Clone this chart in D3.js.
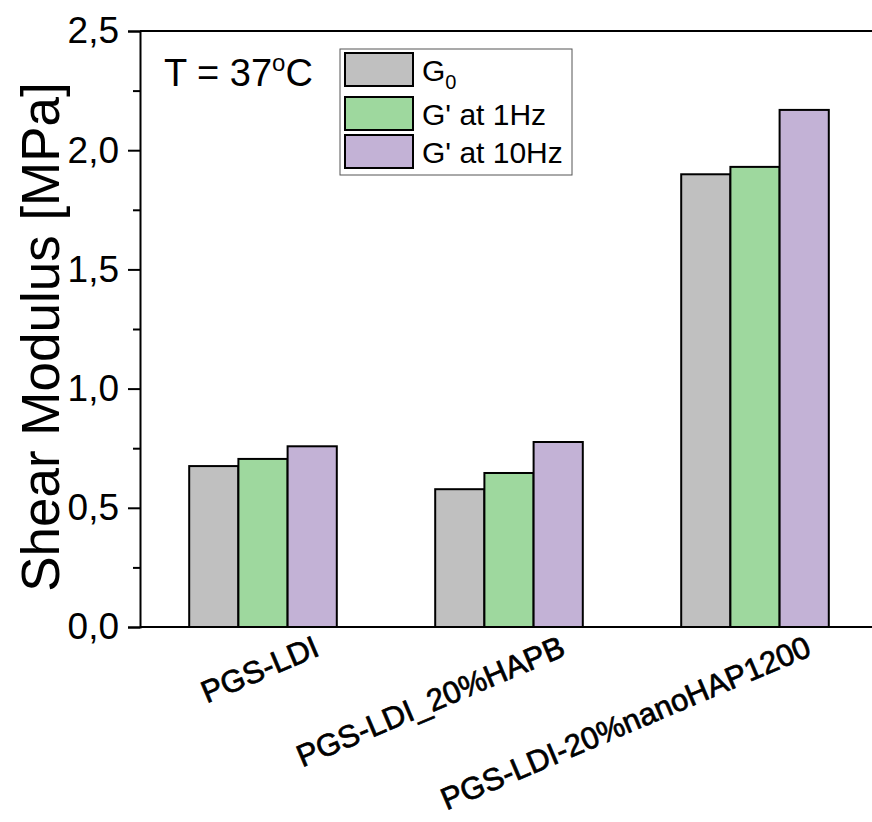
<!DOCTYPE html>
<html>
<head>
<meta charset="utf-8">
<script src="https://cdn.jsdelivr.net/npm/d3@7"></script>
<style>
  html, body { margin: 0; padding: 0; background: #fff; overflow: hidden; }
  svg { display: block; font-family: "Liberation Sans", Arial, sans-serif; }
</style>
</head>
<body>
<div id="chart"></div>
<script>
// values
const categories = ['PGS-LDI', 'PGS-LDI_20%HAPB', 'PGS-LDI-20%nanoHAP1200'];
const seriesKeys = ['g0', 'g1', 'g10'];
const g0Values = [0.675, 0.578, 1.899];
const g1HzValues = [0.705, 0.646, 1.930];
const g10HzValues = [0.758, 0.776, 2.169];
const yTicks = [0, 0.5, 1.0, 1.5, 2.0, 2.5];
const yMinorTicks = [0.25, 0.75, 1.25, 1.75, 2.25];

const seriesColors = ['#c0c0c0', '#9ed89e', '#c3b2d6'];

const width = 872, height = 822;
const margin = {top: 31, right: -6, bottom: 195, left: 140};

const rows = categories.map((c, i) => ({
    category: c,
    g0: g0Values[i],
    g1: g1HzValues[i],
    g10: g10HzValues[i]
}));

const svg = d3.select('#chart')
    .append('svg')
    .attr('width', width)
    .attr('height', height);

const x0 = d3.scaleBand()
    .domain(categories)
    .range([margin.left, width - margin.right])
    .paddingInner(0.4)
    .paddingOuter(0.2);

const x1 = d3.scaleBand()
    .domain(seriesKeys)
    .range([0, x0.bandwidth()]);

const y = d3.scaleLinear()
    .domain([0, 2.5])
    .range([height - margin.bottom, margin.top]);

const color = d3.scaleOrdinal().domain(seriesKeys).range(seriesColors);

const locale = d3.formatLocale({decimal: ',', thousands: '.', grouping: [3], currency: ['', '']});
const fmt = locale.format('.1f');

// bars
svg.append('g')
    .selectAll('g')
    .data(rows)
    .join('g')
    .attr('transform', d => `translate(${x0(d.category)},0)`)
    .selectAll('rect')
    .data(d => seriesKeys.map(k => ({key: k, value: d[k]})))
    .join('rect')
    .attr('x', d => x1(d.key))
    .attr('y', d => y(d.value))
    .attr('width', x1.bandwidth())
    .attr('height', d => y(0) - y(d.value))
    .attr('fill', d => color(d.key))
    .attr('stroke', '#000')
    .attr('stroke-width', 2);

// top frame line
svg.append('line')
    .attr('x1', margin.left).attr('x2', width + 10)
    .attr('y1', y(2.5)).attr('y2', y(2.5))
    .attr('stroke', '#000').attr('stroke-width', 2);

// bottom axis line (no ticks)
svg.append('line')
    .attr('x1', margin.left).attr('x2', width + 10)
    .attr('y1', y(0)).attr('y2', y(0))
    .attr('stroke', '#000').attr('stroke-width', 2);

// y axis, major
const yAxisG = svg.append('g')
    .attr('transform', `translate(${margin.left},0)`)
    .call(d3.axisLeft(y).tickValues(yTicks).tickFormat(fmt).tickSize(12).tickPadding(9));
yAxisG.select('.domain').attr('stroke-width', 2);
yAxisG.selectAll('.tick line').attr('stroke-width', 2);
yAxisG.selectAll('.tick text')
    .attr('font-size', 37)
    .attr('font-family', '"Liberation Sans", Arial, sans-serif')
    .attr('fill', '#000');

// y axis, minor
const yMinorG = svg.append('g')
    .attr('transform', `translate(${margin.left},0)`)
    .call(d3.axisLeft(y).tickValues(yMinorTicks).tickFormat('').tickSize(7));
yMinorG.select('.domain').remove();
yMinorG.selectAll('.tick line').attr('stroke-width', 2);

// y title
svg.append('text')
    .attr('transform', `translate(59,${(y(0) + y(2.5)) / 2 + 8}) rotate(-90)`)
    .attr('text-anchor', 'middle')
    .attr('font-size', 53)
    .text('Shear Modulus [MPa]');

// category labels, rotated
svg.append('g')
    .selectAll('text')
    .data(categories)
    .join('text')
    .attr('transform', d => `translate(${x0(d) + x0.bandwidth() / 2 + 58},${y(0) + 28}) rotate(-23)`)
    .attr('text-anchor', 'end')
    .attr('font-size', 31)
    .attr('stroke', '#000')
    .attr('stroke-width', 0.7)
    .text(d => d);

// temperature note
const note = svg.append('text')
    .attr('x', 164)
    .attr('y', 86)
    .attr('font-size', 38);
note.append('tspan').text('T = 37');
note.append('tspan').attr('font-size', 24).attr('dy', -15).text('o');
note.append('tspan').attr('dy', 15).text('C');

// legend
const legend = svg.append('g');
legend.append('rect')
    .attr('x', 340).attr('y', 49)
    .attr('width', 232).attr('height', 126)
    .attr('fill', '#fff')
    .attr('stroke', '#555')
    .attr('stroke-width', 1);

const legendRows = [53, 97, 135];
const legendItems = legend.selectAll('g.item')
    .data(seriesKeys)
    .join('g')
    .attr('class', 'item')
    .attr('transform', (d, i) => `translate(345,${legendRows[i]})`);

legendItems.append('rect')
    .attr('width', 68).attr('height', 33)
    .attr('fill', d => color(d))
    .attr('stroke', '#000')
    .attr('stroke-width', 2);

legendItems.each(function (d) {
    const t = d3.select(this).append('text')
        .attr('x', 77).attr('y', 28)
        .attr('font-size', 30);
    if (d === 'g0') {
        t.append('tspan').text('G');
        t.append('tspan').attr('font-size', 20).attr('dy', 8).text('0');
    } else if (d === 'g1') {
        t.text("G' at 1Hz");
    } else {
        t.text("G' at 10Hz");
    }
});
</script>
</body>
</html>
